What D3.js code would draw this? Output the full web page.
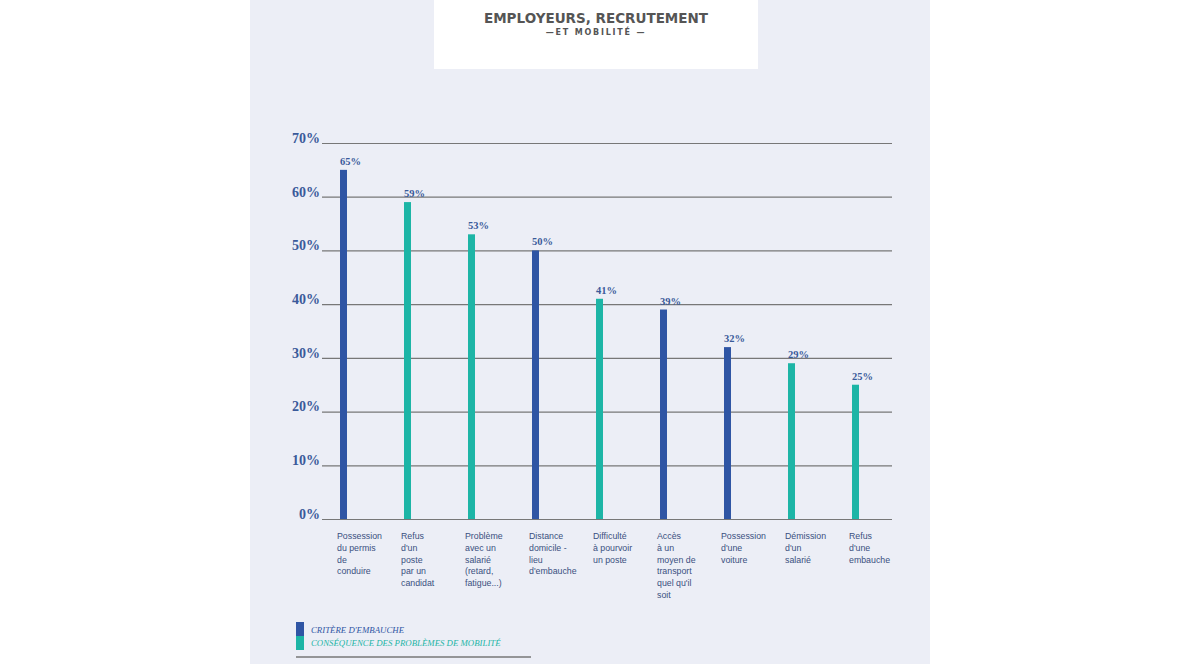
<!DOCTYPE html><html><head><meta charset="utf-8"><script src="https://cdn.jsdelivr.net/npm/d3@7"></script>
<style>body{margin:0;background:#fff}svg{display:block}</style></head><body><svg id="c" width="1180" height="664"></svg>
<script>
const categories=[["Possession","du permis","de","conduire"],["Refus","d'un","poste","par un","candidat"],["Problème","avec un","salarié","(retard,","fatigue...)"],["Distance","domicile -","lieu","d'embauche"],["Difficulté","à pourvoir","un poste"],["Accès","à un","moyen de","transport","quel qu'il","soit"],["Possession","d'une","voiture"],["Démission","d'un","salarié"],["Refus","d'une","embauche"]];
const values=[65,59,53,50,41,39,32,29,25];
const types=[0,1,1,0,1,0,0,1,1];
const seriesNames=["CRITÈRE D'EMBAUCHE","CONSÉQUENCE DES PROBLÈMES DE MOBILITÉ"];
const ticks=[0,10,20,30,40,50,60,70];
const colors=["#2f55a4","#1db5a6"];
const svg=d3.select("#c");
svg.append("rect").attr("x",250).attr("y",0).attr("width",680).attr("height",664).attr("fill","#eceef6");
svg.append("rect").attr("x",434).attr("y",0).attr("width",324).attr("height",69).attr("fill","#fff");
svg.append("text").attr("x",596).attr("y",23).attr("text-anchor","middle").attr("font-family","DejaVu Sans").attr("font-weight","bold").attr("font-size",13.5).attr("fill","#555").text("EMPLOYEURS, RECRUTEMENT");
svg.append("text").attr("x",596).attr("y",35).attr("text-anchor","middle").attr("font-family","DejaVu Sans").attr("font-weight","bold").attr("font-size",8).attr("letter-spacing",1.8).attr("fill","#555").text("—ET MOBILITÉ —");
const y=d3.scaleLinear().domain([0,70]).range([519,143]);
const x=d3.scaleBand().domain(d3.range(values.length)).range([312,888]);
const axis=d3.axisLeft(y).tickValues(ticks).tickFormat(d=>d+"%").tickSize(-570).tickPadding(2);
const g=svg.append("g").attr("transform","translate(322,0)").call(axis);
g.select(".domain").remove();
g.selectAll(".tick line").attr("stroke","#777").attr("stroke-width",1.2);
g.selectAll(".tick text").attr("font-family","Liberation Serif").attr("font-weight","bold").attr("font-size",14).attr("fill","#3a5a9a").attr("dy","-0.05em");
const bx=i=>x(i)+x.bandwidth()/2-4;
svg.selectAll(".bar").data(values).enter().append("rect").attr("x",(d,i)=>bx(i)).attr("width",7).attr("y",d=>y(d)).attr("height",d=>y(0)-y(d)).attr("fill",(d,i)=>colors[types[i]]);
svg.selectAll(".vl").data(values).enter().append("text").attr("x",(d,i)=>bx(i)).attr("y",d=>y(d)-5).attr("font-family","Liberation Serif").attr("font-weight","bold").attr("font-size",10.5).attr("fill","#3a5a9a").text(d=>d+"%");
categories.forEach((c,i)=>{const t=svg.append("text").attr("font-family","Liberation Sans").attr("font-size",8.8).attr("fill","#3a5080");
c.forEach((l,j)=>t.append("tspan").attr("x",bx(i)-3).attr("y",539+j*11.8).text(l));});
svg.append("rect").attr("x",296).attr("y",622).attr("width",8).attr("height",14).attr("fill",colors[0]);
svg.append("rect").attr("x",296).attr("y",636).attr("width",8).attr("height",14).attr("fill",colors[1]);
seriesNames.forEach((n,i)=>svg.append("text").attr("x",311).attr("y",633+i*13).attr("font-family","Liberation Serif").attr("font-style","italic").attr("font-size",8.8).attr("fill",colors[i]).text(n));
svg.append("line").attr("x1",296).attr("x2",531).attr("y1",657).attr("y2",657).attr("stroke","#777").attr("stroke-width",1.5);
</script></body></html>
